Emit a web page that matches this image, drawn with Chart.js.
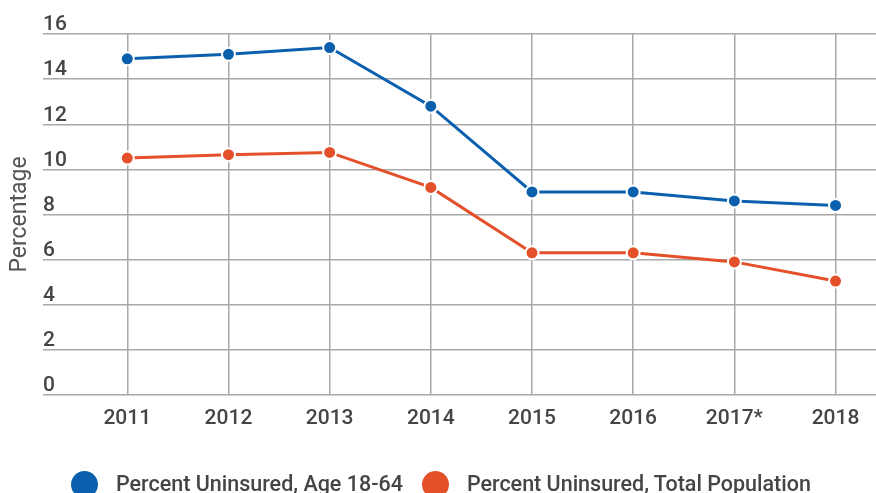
<!DOCTYPE html>
<html><head><meta charset="utf-8">
<script src="https://cdn.jsdelivr.net/npm/chart.js@4/dist/chart.umd.min.js"></script>
<style>
html,body{margin:0;padding:0;background:#fff;overflow:hidden;width:876px;height:493px}
#wrap{position:absolute;left:0;top:0;width:876px;height:493px}
#legend{position:absolute;left:71px;top:470px;display:flex;align-items:center;font-family:Roboto;font-weight:500;font-size:21.5px;color:#454545;white-space:nowrap;line-height:28px}
.item{display:flex;align-items:center;margin-right:19px}
.dot{width:27px;height:27px;border-radius:50%;margin-right:18px}
</style></head><body>
<div id="wrap"><canvas id="c" width="876" height="493"></canvas></div>
<div id="legend"></div>
<script>
const years = [2011, 2012, 2013, 2014, 2015, 2016, 2017, 2018];
const yearLabels = ['2011', '2012', '2013', '2014', '2015', '2016', '2017*', '2018'];
const uninsured18to64 = [14.9, 15.1, 15.4, 12.8, 9.0, 9.0, 8.6, 8.4];
const uninsuredTotal = [10.5, 10.65, 10.75, 9.2, 6.3, 6.3, 5.9, 5.05];
const seriesNames = ['Percent Uninsured, Age 18-64', 'Percent Uninsured, Total Population'];
const seriesColors = ['#0b60ad', '#e4502a'];
const yAxisTitle = 'Percentage';

Chart.defaults.font.family = 'Roboto';
const gridColor = '#a8a8a8';
const tickFont = {family: 'Roboto', size: 21, weight: '500'};

function series(vals) { return years.map((y, i) => ({x: y, y: vals[i]})); }
function ds(label, vals, color) {
  return {
    label, data: series(vals), borderColor: color, backgroundColor: color,
    borderWidth: 3, pointRadius: 6.5, pointHoverRadius: 6.5,
    pointBackgroundColor: color, pointBorderColor: '#ffffff', pointBorderWidth: 2,
    tension: 0, clip: false
  };
}

const chart = new Chart(document.getElementById('c'), {
  type: 'line',
  data: {datasets: [ds(seriesNames[0], uninsured18to64, seriesColors[0]), ds(seriesNames[1], uninsuredTotal, seriesColors[1])]},
  options: {
    responsive: false, animation: false,
    layout: {autoPadding: false, padding: {top: 34, left: 0, right: 0, bottom: 0}},
    plugins: {legend: {display: false}, tooltip: {enabled: false}},
    scales: {
      x: {
        type: 'linear', min: 2010.167, max: 2018.4,
        afterBuildTicks: s => { s.ticks = years.map(v => ({value: v})); },
        afterFit: s => { s.height = 98; s.paddingLeft = 0; s.paddingRight = 0; },
        ticks: {autoSkip: false, maxRotation: 0, padding: 11, color: '#454545', font: tickFont,
          callback: v => yearLabels[years.indexOf(v)]},
        grid: {color: gridColor, lineWidth: 1.5, drawTicks: false},
        border: {display: false}
      },
      y: {
        min: 0, max: 16,
        afterFit: s => { s.width = 43; },
        ticks: {stepSize: 2, mirror: true, padding: 0, labelOffset: -9, color: '#454545', font: tickFont},
        grid: {color: gridColor, lineWidth: 1.5, drawTicks: false},
        border: {display: false},
        title: {display: true, text: yAxisTitle, color: '#555', font: {family: 'Roboto', size: 23}, padding: {top: 6, bottom: 0}}
      }
    }
  }
});

const leg = document.getElementById('legend');
chart.data.datasets.forEach(d => {
  const it = document.createElement('div'); it.className = 'item';
  const dot = document.createElement('span'); dot.className = 'dot'; dot.style.background = d.borderColor;
  const tx = document.createElement('span'); tx.textContent = d.label;
  it.appendChild(dot); it.appendChild(tx); leg.appendChild(it);
});
</script>
</body></html>
